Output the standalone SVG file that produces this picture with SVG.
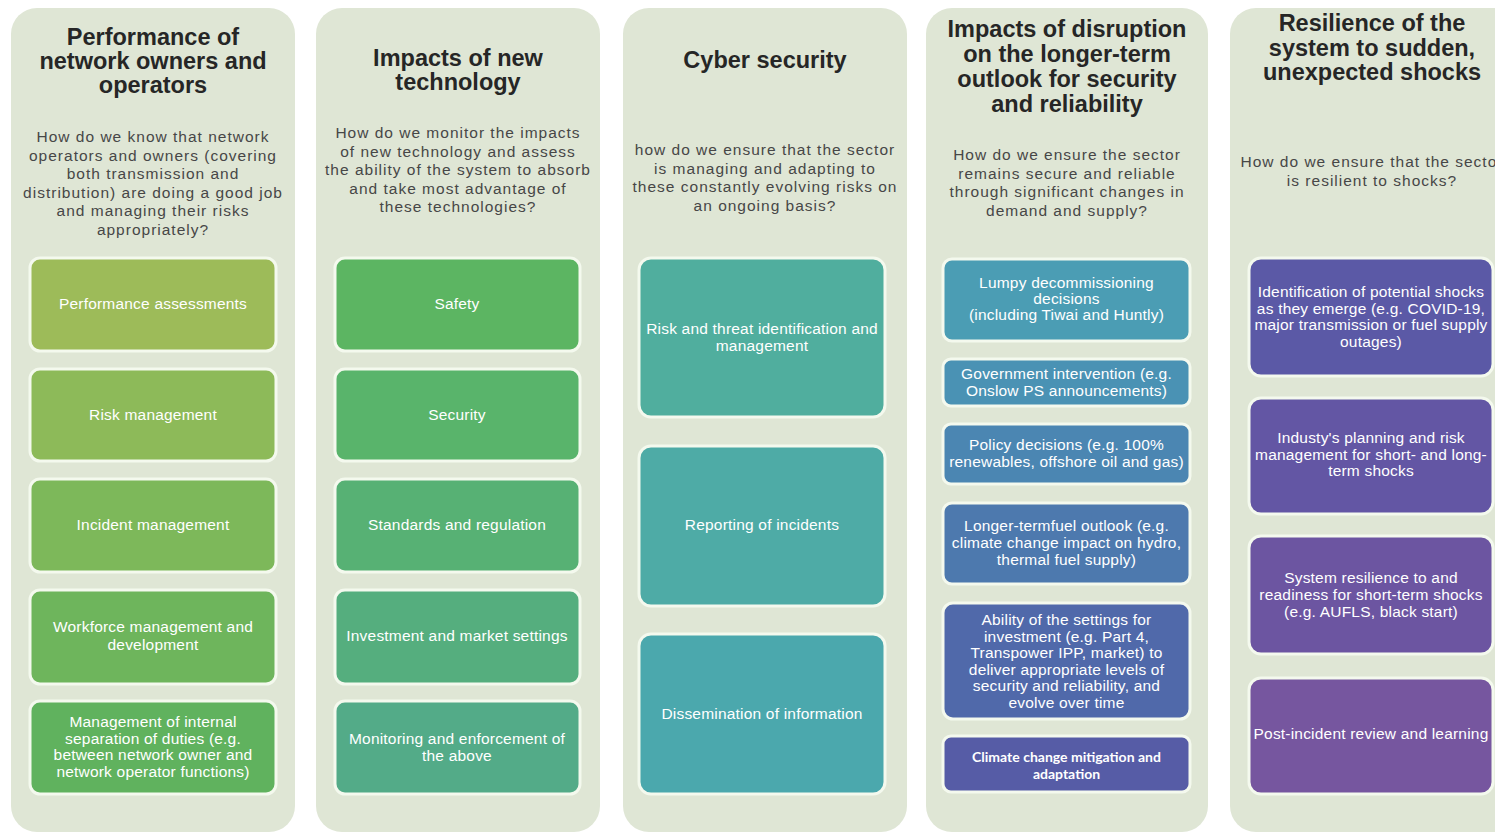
<svg xmlns="http://www.w3.org/2000/svg" width="1495" height="833" viewBox="0 0 1495 833">
<style>
.col{fill:#dfe6d5}
.box{stroke:#f4f9ee;stroke-width:3}
.t{font-family:"Liberation Sans",Arial,sans-serif;font-weight:bold;font-size:23.5px;fill:#262626;text-anchor:middle}
.d{font-family:"Liberation Sans",Arial,sans-serif;font-size:15.5px;letter-spacing:1px;fill:#474747;text-anchor:middle}
.b{font-family:"Liberation Sans",Arial,sans-serif;font-size:15.5px;letter-spacing:0.2px;fill:#ffffff;text-anchor:middle}
.c{font-family:Lato,"Liberation Sans",sans-serif;font-weight:bold;font-size:14px;fill:#ffffff;text-anchor:middle}
</style>
<rect width="1495" height="833" fill="#ffffff"/>

<g id="col1">
<rect class="col" x="11" y="8" width="284" height="824" rx="26"/>
<text class="t" x="153" y="45">Performance of</text>
<text class="t" x="153" y="69">network owners and</text>
<text class="t" x="153" y="93">operators</text>
<text class="d" x="153" y="142">How do we know that network</text>
<text class="d" x="153" y="160.5">operators and owners (covering</text>
<text class="d" x="153" y="179">both transmission and</text>
<text class="d" x="153" y="197.5">distribution) are doing a good job</text>
<text class="d" x="153" y="216">and managing their risks</text>
<text class="d" x="153" y="234.5">appropriately?</text>
</g>
<g id="n1-1"><rect class="box" x="30" y="258" width="246" height="93" rx="10" fill="#9dbb59"/><text class="b" x="153" y="309">Performance assessments</text></g>
<g id="n1-2"><rect class="box" x="30" y="369" width="246" height="92" rx="10" fill="#8dba59"/><text class="b" x="153" y="420">Risk management</text></g>
<g id="n1-3"><rect class="box" x="30" y="479" width="246" height="93" rx="10" fill="#7db85a"/><text class="b" x="153" y="530">Incident management</text></g>
<g id="n1-4"><rect class="box" x="30" y="590" width="246" height="94" rx="10" fill="#6eb55c"/><text class="b" x="153" y="632">Workforce management and</text><text class="b" x="153" y="650">development</text></g>
<g id="n1-5"><rect class="box" x="30" y="701" width="246" height="93" rx="10" fill="#60b25e"/><text class="b" x="153" y="727">Management of internal</text><text class="b" x="153" y="743.5">separation of duties (e.g.</text><text class="b" x="153" y="760">between network owner and</text><text class="b" x="153" y="776.5">network operator functions)</text></g>

<g id="col2">
<rect class="col" x="316" y="8" width="284" height="824" rx="26"/>
<text class="t" x="458" y="66">Impacts of new</text>
<text class="t" x="458" y="90">technology</text>
<text class="d" x="458" y="138">How do we monitor the impacts</text>
<text class="d" x="458" y="156.5">of new technology and assess</text>
<text class="d" x="458" y="175">the ability of the system to absorb</text>
<text class="d" x="458" y="193.5">and take most advantage of</text>
<text class="d" x="458" y="212">these technologies?</text>
</g>
<g id="n2-1"><rect class="box" x="335" y="258" width="245" height="93" rx="10" fill="#5cb562"/><text class="b" x="457" y="309">Safety</text></g>
<g id="n2-2"><rect class="box" x="335" y="369" width="245" height="92" rx="10" fill="#59b46b"/><text class="b" x="457" y="420">Security</text></g>
<g id="n2-3"><rect class="box" x="335" y="479" width="245" height="93" rx="10" fill="#57b174"/><text class="b" x="457" y="530">Standards and regulation</text></g>
<g id="n2-4"><rect class="box" x="335" y="590" width="245" height="94" rx="10" fill="#55ae7e"/><text class="b" x="457" y="641">Investment and market settings</text></g>
<g id="n2-5"><rect class="box" x="335" y="701" width="245" height="93" rx="10" fill="#53ab88"/><text class="b" x="457" y="744">Monitoring and enforcement of</text><text class="b" x="457" y="761">the above</text></g>

<g id="col3">
<rect class="col" x="623" y="8" width="284" height="824" rx="26"/>
<text class="t" x="765" y="68">Cyber security</text>
<text class="d" x="765" y="155">how do we ensure that the sector</text>
<text class="d" x="765" y="173.5">is managing and adapting to</text>
<text class="d" x="765" y="192">these constantly evolving risks on</text>
<text class="d" x="765" y="210.5">an ongoing basis?</text>
</g>
<g id="n3-1"><rect class="box" x="639" y="258" width="246" height="159" rx="12" fill="#50ae9e"/><text class="b" x="762" y="334">Risk and threat identification and</text><text class="b" x="762" y="351">management</text></g>
<g id="n3-2"><rect class="box" x="639" y="446" width="246" height="160" rx="12" fill="#4eaba6"/><text class="b" x="762" y="530">Reporting of incidents</text></g>
<g id="n3-3"><rect class="box" x="639" y="634" width="246" height="160" rx="12" fill="#4ba8ad"/><text class="b" x="762" y="719">Dissemination of information</text></g>

<g id="col4">
<rect class="col" x="926" y="8" width="282" height="824" rx="26"/>
<text class="t" x="1067" y="37">Impacts of disruption</text>
<text class="t" x="1067" y="62">on the longer-term</text>
<text class="t" x="1067" y="87">outlook for security</text>
<text class="t" x="1067" y="112">and reliability</text>
<text class="d" x="1067" y="160">How do we ensure the sector</text>
<text class="d" x="1067" y="178.5">remains secure and reliable</text>
<text class="d" x="1067" y="197">through significant changes in</text>
<text class="d" x="1067" y="215.5">demand and supply?</text>
</g>
<g id="n4-1"><rect class="box" x="943" y="259" width="247" height="82" rx="9" fill="#4b9db4"/><text class="b" x="1066.5" y="288">Lumpy decommissioning</text><text class="b" x="1066.5" y="304">decisions</text><text class="b" x="1066.5" y="320">(including Tiwai and Huntly)</text></g>
<g id="n4-2"><rect class="box" x="943" y="359" width="247" height="47" rx="8" fill="#4a92b4"/><text class="b" x="1066.5" y="379">Government intervention (e.g.</text><text class="b" x="1066.5" y="396">Onslow PS announcements)</text></g>
<g id="n4-3"><rect class="box" x="943" y="424" width="247" height="60" rx="8" fill="#4b86b2"/><text class="b" x="1066.5" y="450">Policy decisions (e.g. 100%</text><text class="b" x="1066.5" y="467">renewables, offshore oil and gas)</text></g>
<g id="n4-4"><rect class="box" x="943" y="503" width="247" height="81" rx="9" fill="#4d79ae"/><text class="b" x="1066.5" y="531">Longer-termfuel outlook (e.g.</text><text class="b" x="1066.5" y="548">climate change impact on hydro,</text><text class="b" x="1066.5" y="565">thermal fuel supply)</text></g>
<g id="n4-5"><rect class="box" x="943" y="603" width="247" height="116" rx="10" fill="#5069aa"/><text class="b" x="1066.5" y="625">Ability of the settings for</text><text class="b" x="1066.5" y="641.5">investment (e.g. Part 4,</text><text class="b" x="1066.5" y="658">Transpower IPP, market) to</text><text class="b" x="1066.5" y="674.5">deliver appropriate levels of</text><text class="b" x="1066.5" y="691">security and reliability, and</text><text class="b" x="1066.5" y="707.5">evolve over time</text></g>
<g id="n4-6"><rect class="box" x="943" y="736" width="247" height="56" rx="8" fill="#565ca6"/><text class="c" x="1066.5" y="761.5">Climate change mitigation and</text><text class="c" x="1066.5" y="778.5">adaptation</text></g>

<g id="col5">
<rect class="col" x="1230" y="8" width="300" height="824" rx="26"/>
<text class="t" x="1372" y="31">Resilience of the</text>
<text class="t" x="1372" y="55.5">system to sudden,</text>
<text class="t" x="1372" y="80">unexpected shocks</text>
<text class="d" x="1372" y="167">How do we ensure that the sector</text>
<text class="d" x="1372" y="186">is resilient to shocks?</text>
</g>
<g id="n5-1"><rect class="box" x="1249" y="258" width="244" height="118" rx="12" fill="#5b59a6"/><text class="b" x="1371" y="297">Identification of potential shocks</text><text class="b" x="1371" y="313.5">as they emerge (e.g. COVID-19,</text><text class="b" x="1371" y="330">major transmission or fuel supply</text><text class="b" x="1371" y="346.5">outages)</text></g>
<g id="n5-2"><rect class="box" x="1249" y="398" width="244" height="116" rx="12" fill="#6356a4"/><text class="b" x="1371" y="443">Industy's planning and risk</text><text class="b" x="1371" y="459.5">management for short- and long-</text><text class="b" x="1371" y="476">term shocks</text></g>
<g id="n5-3"><rect class="box" x="1249" y="536" width="244" height="118" rx="12" fill="#6c55a1"/><text class="b" x="1371" y="583">System resilience to and</text><text class="b" x="1371" y="600">readiness for short-term shocks</text><text class="b" x="1371" y="617">(e.g. AUFLS, black start)</text></g>
<g id="n5-4"><rect class="box" x="1249" y="678" width="244" height="116" rx="12" fill="#76569f"/><text class="b" x="1371" y="739">Post-incident review and learning</text></g>
</svg>
